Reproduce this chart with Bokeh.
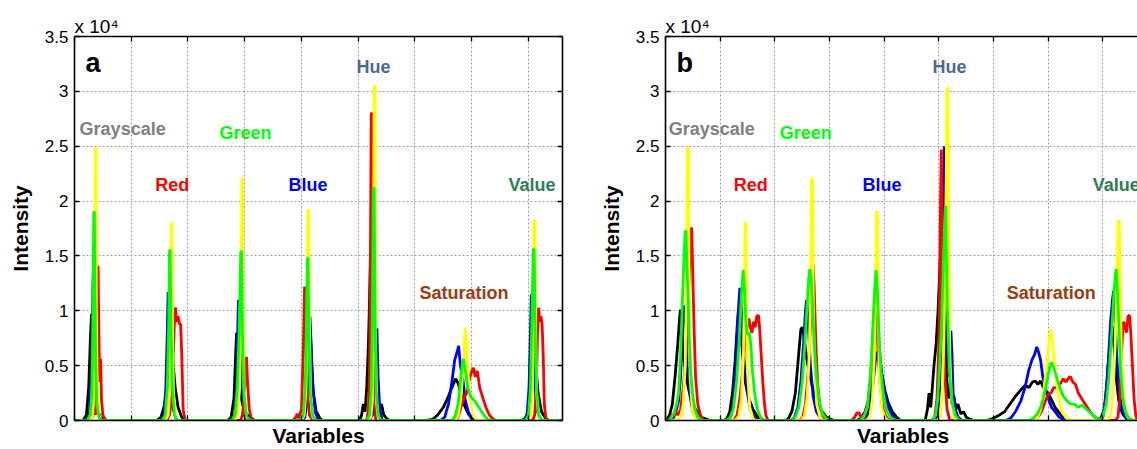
from bokeh.plotting import figure
from bokeh.layouts import row
from bokeh.models import Range1d, FixedTicker, Label, LinearAxis, ColumnDataSource
from bokeh.core.properties import value
from bokeh.embed import file_html
from bokeh.resources import INLINE

# ---------------- data (intensity in units of 1e4, x in histogram bins) ----------------
X_TICKS = [0, 200, 400, 600, 800, 1000, 1200, 1400, 1600]
Y_TICKS = [0, 0.5, 1, 1.5, 2, 2.5, 3, 3.5]
Y_TICK_LABELS = ["0", "0.5", "1", "1.5", "2", "2.5", "3", "3.5"]
VARIABLES = ["Grayscale", "Red", "Green", "Blue", "Hue", "Saturation", "Value"]
VARIABLE_COLORS = ["#808080", "#ff0000", "#00ff00", "#0000ff", "#4d6699", "#9c3b0e", "#2b7f52"]

# panel a
A_BLACK = [(0,0),(30,0),(42,0.05),(50,0.3),(56,0.75),(60,0.97),(63,0.6),(68,0.35),(74,0.2),(80,0.1),(90,0.03),(105,0.005),(120,0),
           (290,0),(305,0.03),(318,0.15),(330,0.4),(340,0.62),(344,0.68),(348,0.5),(355,0.3),(365,0.12),(378,0.03),(392,0),
           (540,0),(552,0.03),(562,0.2),(568,0.6),(571,0.8),(575,0.55),(582,0.3),(592,0.15),(606,0.06),(622,0.02),(636,0),
           (795,0),(808,0.03),(818,0.15),(826,0.45),(832,0.76),(836,0.5),(842,0.25),(852,0.08),(865,0.02),(875,0),
           (1005,0),(1012,0.05),(1018,0.15),(1024,0.08),(1030,0.3),(1036,0.7),(1040,1.1),(1043,1.5),(1046,0.9),(1050,0.4),(1056,0.25),(1062,0.12),(1068,0.2),(1074,0.1),(1082,0.15),(1090,0.05),(1100,0.02),(1110,0),
           (1240,0),(1262,0.01),(1280,0.05),(1300,0.12),(1318,0.22),(1330,0.3),(1343,0.38),(1352,0.34),(1362,0.25),(1374,0.14),(1388,0.06),(1403,0.01),(1420,0),
           (1575,0),(1590,0.02),(1602,0.12),(1612,0.4),(1618,0.62),(1621,0.68),(1626,0.5),(1634,0.25),(1646,0.08),(1660,0.02),(1672,0),(1720,0)]
A_BLUE = [(0,0),(40,0),(52,0.05),(60,0.4),(65,1.2),(68,1.6),(71,1.1),(76,0.4),(84,0.08),(95,0),
          (305,0),(315,0.05),(322,0.3),(327,0.8),(330,1.17),(334,0.9),(340,0.4),(348,0.1),(360,0),
          (555,0),(565,0.05),(572,0.4),(576,0.9),(578,1.1),(582,0.8),(588,0.3),(598,0.05),(610,0),
          (800,0),(812,0.03),(820,0.2),(826,0.6),(830,0.95),(834,0.7),(840,0.3),(848,0.08),(860,0),
          (1040,0),(1050,0.05),(1058,0.3),(1062,0.6),(1066,0.84),(1070,0.4),(1076,0.1),(1085,0),
          (1290,0),(1305,0.03),(1318,0.15),(1330,0.35),(1340,0.55),(1348,0.62),(1354,0.68),(1360,0.5),(1368,0.4),(1376,0.2),(1388,0.08),(1403,0),
          (1585,0),(1595,0.05),(1602,0.3),(1607,0.8),(1610,1.15),(1614,0.9),(1620,0.4),(1630,0.1),(1642,0),(1720,0)]
A_RED = [(0,0),(50,0),(62,0.03),(70,0.1),(74,0.05),(78,0.4),(81,1.0),(83,1.41),(86,0.8),(89,0.35),(92,0.56),(95,0.2),(100,0.05),(110,0),
         (325,0),(335,0.05),(342,0.2),(348,0.6),(353,0.95),(356,1.03),(360,0.9),(365,0.95),(370,0.88),(374,0.88),(378,0.6),(383,0.1),(390,0),
         (585,0),(592,0.05),(598,0.2),(603,0.45),(606,0.58),(610,0.35),(616,0.1),(625,0),
         (770,0),(780,0.03),(785,0.06),(790,0.02),(800,0.1),(806,0.6),(811,1.22),(815,0.8),(820,0.3),(828,0.05),(840,0),
         (1030,0),(1036,0.1),(1040,0.5),(1043,1.5),(1045,2.4),(1046,2.8),(1048,2.8),(1049,2.0),(1052,0.8),(1056,0.2),(1062,0),
         (1340,0),(1352,0.03),(1362,0.12),(1372,0.2),(1382,0.25),(1392,0.38),(1400,0.45),(1406,0.48),(1412,0.4),(1420,0.45),(1428,0.3),(1440,0.2),(1450,0.12),(1462,0.05),(1477,0.01),(1490,0),
         (1615,0),(1622,0.05),(1628,0.3),(1632,0.8),(1636,1.03),(1640,0.9),(1644,0.95),(1648,0.88),(1652,0.6),(1656,0.15),(1662,0),(1720,0)]
A_YELLOW = [(0,0),(55,0),(64,0.05),(69,0.3),(72,1.2),(73,2.48),(76,2.48),(77,1.0),(80,0.3),(86,0.05),(95,0),
            (320,0),(330,0.05),(336,0.3),(339,1.0),(341,1.8),(343,1.8),(345,0.9),(349,0.25),(356,0.03),(365,0),
            (565,0),(575,0.05),(582,0.3),(587,1.0),(590,2.2),(592,2.2),(594,1.0),(598,0.3),(606,0.03),(615,0),
            (800,0),(810,0.05),(816,0.3),(820,1.0),(823,1.92),(825,1.92),(828,0.9),(832,0.25),(840,0.03),(850,0),
            (1035,0),(1045,0.03),(1050,0.2),(1054,1.0),(1056,3.05),(1059,3.05),(1061,0.8),(1065,0.15),(1072,0),
            (1340,0),(1352,0.04),(1362,0.2),(1370,0.5),(1375,0.75),(1378,0.84),(1382,0.7),(1388,0.4),(1396,0.15),(1406,0.04),(1420,0),
            (1600,0),(1608,0.05),(1614,0.3),(1618,1.0),(1620,1.82),(1623,1.82),(1625,0.9),(1629,0.25),(1636,0.03),(1645,0),(1720,0)]
A_GREEN = [(0,0),(45,0),(55,0.05),(60,0.2),(63,0.5),(66,1.3),(68,1.9),(70,1.9),(72,1.2),(75,0.5),(79,0.15),(86,0.03),(95,0),
           (310,0),(320,0.05),(327,0.3),(332,0.9),(335,1.55),(337,1.55),(340,0.9),(345,0.3),(352,0.05),(362,0),
           (555,0),(566,0.05),(574,0.3),(580,0.8),(586,1.54),(589,1.54),(592,0.8),(597,0.25),(605,0.05),(616,0),
           (795,0),(806,0.05),(813,0.3),(818,0.9),(821,1.48),(823,1.48),(826,0.8),(831,0.25),(840,0.04),(852,0),
           (1030,0),(1040,0.05),(1046,0.3),(1050,1.0),(1053,2.12),(1056,2.12),(1059,1.0),(1063,0.3),(1070,0.05),(1080,0),
           (1330,0),(1342,0.04),(1352,0.15),(1360,0.35),(1366,0.5),(1371,0.56),(1378,0.45),(1386,0.3),(1396,0.22),(1410,0.18),(1425,0.12),(1440,0.06),(1456,0.01),(1470,0),
           (1590,0),(1600,0.05),(1607,0.3),(1612,0.9),(1617,1.56),(1620,1.56),(1623,0.9),(1628,0.3),(1636,0.05),(1648,0),(1720,0)]

# panel b
B_BLACK = [(0,0),(5,0.01),(15,0.05),(25,0.15),(35,0.4),(45,0.7),(52,0.95),(55,1.01),(59,0.85),(65,0.6),(75,0.4),(85,0.28),(100,0.15),(115,0.08),(130,0.03),(151,0.01),(165,0),
           (215,0),(225,0.02),(235,0.08),(245,0.25),(255,0.55),(262,0.85),(268,1.02),(274,0.9),(282,0.6),(292,0.35),(305,0.2),(320,0.1),(335,0.04),(350,0.01),(365,0),
           (440,0),(450,0.02),(462,0.08),(475,0.25),(487,0.6),(495,0.83),(500,0.85),(506,0.78),(514,0.6),(525,0.45),(538,0.3),(552,0.18),(568,0.1),(585,0.04),(605,0.01),(620,0),
           (700,0),(715,0.02),(730,0.08),(745,0.2),(758,0.45),(767,0.75),(773,0.87),(780,0.7),(790,0.45),(802,0.28),(815,0.16),(830,0.08),(845,0.03),(860,0),
           (950,0),(958,0.1),(964,0.25),(970,0.12),(976,0.3),(982,0.5),(990,0.7),(997,1.0),(1002,1.3),(1006,1.52),(1010,1.2),(1014,0.9),(1020,0.85),(1025,0.5),(1030,0.35),(1036,0.2),(1042,0.3),(1048,0.15),(1055,0.22),(1062,0.1),(1070,0.15),(1080,0.06),(1090,0.08),(1100,0.03),(1115,0.01),(1130,0),
           (1170,0),(1190,0.01),(1215,0.04),(1240,0.08),(1260,0.15),(1280,0.22),(1300,0.28),(1315,0.32),(1330,0.3),(1342,0.35),(1353,0.36),(1362,0.33),(1372,0.36),(1382,0.3),(1395,0.26),(1410,0.2),(1425,0.12),(1440,0.07),(1455,0.03),(1467,0.01),(1485,0),
           (1580,0),(1592,0.02),(1605,0.1),(1615,0.35),(1624,0.65),(1630,0.82),(1634,0.86),(1640,0.7),(1648,0.4),(1658,0.18),(1670,0.07),(1685,0.02),(1700,0),(1740,0)]
B_BLUE = [(0,0),(20,0),(30,0.03),(40,0.1),(48,0.18),(55,0.4),(62,0.8),(68,1.05),(74,0.9),(80,0.5),(88,0.25),(100,0.08),(115,0.02),(130,0),
          (225,0),(238,0.03),(248,0.15),(258,0.5),(265,0.95),(272,1.21),(278,1.0),(286,0.6),(296,0.3),(310,0.1),(325,0.03),(340,0),
          (460,0),(472,0.03),(484,0.12),(495,0.35),(505,0.7),(512,1.0),(516,1.1),(522,0.9),(530,0.5),(540,0.22),(552,0.08),(568,0.02),(585,0),
          (720,0),(735,0.03),(748,0.12),(760,0.35),(770,0.6),(778,0.63),(784,0.55),(792,0.4),(802,0.25),(815,0.12),(830,0.04),(848,0),
          (985,0),(995,0.05),(1003,0.3),(1010,0.9),(1015,1.6),(1018,2.1),(1020,2.5),(1022,1.7),(1026,1.0),(1032,0.6),(1038,0.4),(1044,0.82),(1048,0.6),(1052,0.25),(1060,0.1),(1070,0.03),(1085,0),
          (1245,0),(1262,0.02),(1280,0.08),(1300,0.18),(1315,0.3),(1328,0.45),(1340,0.55),(1350,0.6),(1358,0.67),(1365,0.62),(1372,0.55),(1380,0.4),(1390,0.28),(1400,0.2),(1412,0.12),(1425,0.08),(1440,0.03),(1457,0.01),(1470,0),
          (1590,0),(1600,0.03),(1610,0.2),(1620,0.55),(1628,0.9),(1635,1.1),(1639,1.18),(1644,1.0),(1650,0.6),(1658,0.3),(1668,0.12),(1680,0.04),(1695,0),(1740,0)]
B_RED = [(0,0),(15,0),(22,0.05),(30,0.05),(38,0.08),(45,0.05),(55,0.1),(65,0.3),(75,0.6),(82,1.0),(88,1.4),(93,1.75),(96,1.75),(100,1.3),(105,0.8),(110,0.4),(118,0.15),(128,0.05),(140,0),
         (250,0),(262,0.05),(272,0.2),(282,0.45),(290,0.7),(298,0.85),(305,0.93),(310,0.85),(316,0.8),(322,0.9),(328,0.85),(334,0.95),(340,0.96),(344,0.85),(350,0.6),(356,0.35),(362,0.15),(367,0.05),(375,0),
         (490,0),(502,0.03),(512,0.15),(522,0.45),(530,0.85),(536,1.2),(540,1.42),(544,1.2),(550,0.7),(556,0.35),(565,0.12),(578,0.03),(590,0),
         (680,0),(692,0.03),(700,0.07),(708,0.07),(716,0.03),(728,0.05),(740,0.15),(752,0.45),(760,0.85),(767,1.19),(772,1.0),(778,0.6),(786,0.3),(796,0.1),(810,0.02),(825,0),
         (975,0),(985,0.03),(993,0.2),(999,0.6),(1003,1.2),(1006,2.0),(1009,2.47),(1012,1.8),(1016,0.9),(1022,0.4),(1030,0.1),(1040,0),
         (1345,0),(1360,0.02),(1375,0.08),(1390,0.18),(1400,0.24),(1410,0.25),(1420,0.3),(1432,0.3),(1445,0.34),(1455,0.38),(1465,0.35),(1475,0.39),(1481,0.4),(1490,0.35),(1500,0.33),(1510,0.25),(1522,0.2),(1535,0.15),(1548,0.1),(1562,0.05),(1577,0.02),(1591,0.01),(1605,0),
         (1645,0),(1655,0.03),(1662,0.2),(1668,0.6),(1674,0.9),(1680,0.88),(1686,0.8),(1692,0.95),(1697,0.96),(1702,0.8),(1708,0.5),(1714,0.2),(1720,0.05),(1726,0),(1740,0)]
B_YELLOW = [(0,0),(40,0),(55,0.03),(65,0.15),(72,0.5),(77,1.2),(80,2.48),(84,2.48),(86,1.1),(90,0.4),(98,0.1),(110,0.02),(120,0),
            (255,0),(268,0.04),(278,0.2),(285,0.6),(289,1.2),(291,1.8),(294,1.8),(296,1.1),(300,0.45),(308,0.12),(320,0.02),(330,0),
            (495,0),(508,0.04),(518,0.2),(526,0.6),(531,1.2),(534,2.2),(538,2.2),(540,1.2),(545,0.5),(553,0.15),(565,0.03),(578,0),
            (735,0),(748,0.04),(757,0.2),(764,0.6),(769,1.2),(772,1.9),(776,1.9),(778,1.0),(783,0.4),(792,0.1),(805,0.02),(815,0),
            (995,0),(1005,0.03),(1012,0.2),(1018,0.7),(1023,1.4),(1027,2.2),(1029,3.03),(1032,3.03),(1034,2.56),(1036,1.5),(1040,0.6),(1046,0.2),(1055,0.03),(1065,0),
            (1350,0),(1362,0.03),(1372,0.1),(1382,0.25),(1392,0.45),(1400,0.65),(1406,0.78),(1410,0.83),(1415,0.72),(1422,0.55),(1430,0.35),(1440,0.18),(1452,0.07),(1467,0.02),(1480,0),
            (1615,0),(1628,0.04),(1637,0.25),(1645,0.7),(1651,1.3),(1656,1.82),(1660,1.82),(1663,1.2),(1668,0.55),(1676,0.2),(1688,0.04),(1700,0),(1740,0)]
B_GREEN = [(0,0),(10,0),(20,0.02),(30,0.06),(40,0.14),(48,0.25),(55,0.6),(62,1.1),(68,1.5),(72,1.73),(75,1.72),(78,1.45),(82,1.2),(86,0.8),(92,0.45),(100,0.22),(110,0.08),(122,0.02),(135,0),
           (220,0),(235,0.02),(248,0.1),(260,0.35),(270,0.75),(278,1.15),(284,1.37),(289,1.2),(294,0.9),(300,0.78),(306,0.8),(312,0.7),(318,0.45),(326,0.25),(336,0.1),(348,0.03),(360,0),
           (460,0),(475,0.03),(488,0.12),(500,0.35),(510,0.7),(518,1.05),(524,1.3),(528,1.38),(533,1.3),(538,1.05),(544,0.7),(552,0.4),(562,0.18),(575,0.06),(590,0.01),(605,0),
           (710,0),(725,0.03),(738,0.12),(748,0.35),(757,0.75),(764,1.15),(770,1.37),(775,1.2),(780,0.85),(787,0.5),(796,0.25),(808,0.1),(822,0.03),(840,0),
           (975,0),(988,0.05),(996,0.2),(1003,0.5),(1010,0.9),(1016,1.4),(1021,1.8),(1024,1.96),(1027,1.6),(1030,1.1),(1034,0.8),(1038,0.5),(1043,0.3),(1050,0.15),(1060,0.05),(1075,0),
           (1330,0),(1345,0.02),(1360,0.06),(1372,0.12),(1382,0.2),(1392,0.32),(1400,0.42),(1407,0.5),(1413,0.53),(1420,0.48),(1428,0.42),(1436,0.35),(1445,0.28),(1455,0.22),(1468,0.18),(1482,0.15),(1495,0.15),(1510,0.12),(1525,0.14),(1540,0.1),(1555,0.07),(1568,0.04),(1577,0.02),(1592,0),
           (1600,0.03),(1612,0.15),(1622,0.4),(1632,0.8),(1640,1.15),(1646,1.35),(1649,1.38),(1653,1.2),(1658,0.9),(1664,0.5),(1672,0.22),(1682,0.08),(1695,0.02),(1710,0),(1740,0)]

# label placement (data coordinates)
A_LABEL_X = [18, 285, 511, 754, 994, 1216, 1530]
B_LABEL_X = [12, 250, 418, 721, 977, 1248, 1563]
LABEL_Y = [2.66, 2.15, 2.62, 2.15, 3.22, 1.16, 2.15]

LINE_COLORS = {"black": "#000000", "blue": "#0000ff", "red": "#ff0000", "yellow": "#ffff00", "green": "#00ff00"}
FONT = "Liberation Sans"


def style_axis(ax):
    ax.axis_line_color = "black"
    ax.axis_line_width = 1.6
    ax.major_tick_in = 5
    ax.major_tick_out = 0
    ax.major_tick_line_color = "black"
    ax.major_tick_line_width = 1.3
    ax.minor_tick_line_color = None


def blank_labels(ax, ticks):
    ax.major_label_overrides = {t: "" for t in ticks}
    ax.major_label_text_font_size = "1px"
    ax.major_label_standoff = 0


def make_panel(series, xmax, frame_w, left_border, right_border, with_right, letter, label_x):
    p = figure(frame_width=frame_w, frame_height=384,
               x_range=Range1d(0, xmax), y_range=Range1d(0, 3.5),
               output_backend="svg", toolbar_location=None,
               min_border_left=left_border, min_border_right=right_border,
               min_border_top=36, min_border_bottom=29,
               outline_line_color=None, background_fill_color="white",
               border_fill_color="white")

    # "x 10^4" multiplier as a left-aligned title above the frame
    p.title.text = "x 10\u2074"
    p.title.align = "left"
    p.title.text_font = FONT
    p.title.text_font_style = "normal"
    p.title.text_font_size = "19px"
    p.title.text_color = "black"
    p.title.offset = 0
    p.title.standoff = 0

    # bottom axis
    xa = p.xaxis[0]
    xa.ticker = FixedTicker(ticks=X_TICKS)
    style_axis(xa)
    blank_labels(xa, X_TICKS)
    xa.axis_label = "Variables"
    xa.axis_label_text_font = FONT
    xa.axis_label_text_font_style = "bold"
    xa.axis_label_text_font_size = "21px"
    xa.axis_label_text_color = "black"
    xa.axis_label_standoff = 3

    # top axis
    top = LinearAxis(ticker=FixedTicker(ticks=X_TICKS))
    style_axis(top)
    blank_labels(top, X_TICKS)
    p.add_layout(top, "above")

    # left axis
    ya = p.yaxis[0]
    ya.ticker = FixedTicker(ticks=Y_TICKS)
    style_axis(ya)
    ya.major_label_overrides = dict(zip(Y_TICKS, Y_TICK_LABELS))
    ya.major_label_text_font = FONT
    ya.major_label_text_font_size = "17px"
    ya.major_label_text_color = "black"
    ya.major_label_standoff = 6
    ya.axis_label = "Intensity"
    ya.axis_label_text_font = FONT
    ya.axis_label_text_font_style = "bold"
    ya.axis_label_text_font_size = "21px"
    ya.axis_label_text_color = "black"
    ya.axis_label_standoff = 10

    if with_right:
        ra = LinearAxis(ticker=FixedTicker(ticks=Y_TICKS))
        style_axis(ra)
        blank_labels(ra, Y_TICKS)
        p.add_layout(ra, "right")

    p.xgrid.ticker = FixedTicker(ticks=X_TICKS)
    p.ygrid.ticker = FixedTicker(ticks=Y_TICKS)
    for g in (p.xgrid, p.ygrid):
        g.grid_line_color = "#a0a0a0"
        g.grid_line_dash = "2 2"
        g.grid_line_width = 1

    for name in ["black", "blue", "red", "yellow", "green"]:
        pts = series[name]
        xs = [pt[0] for pt in pts]
        ys = [pt[1] for pt in pts]
        p.line(xs, ys, line_color=LINE_COLORS[name], line_width=2.8)

    src = ColumnDataSource(dict(x=label_x, y=LABEL_Y, text=VARIABLES, color=VARIABLE_COLORS))
    p.text(x="x", y="y", text="text", text_color="color", source=src,
           text_font=value(FONT), text_font_style="bold", text_font_size="18px",
           text_baseline="middle", text_align="left")

    p.add_layout(Label(x=0, y=3.26, x_offset=11, text=letter, text_font=FONT,
                       text_font_style="bold", text_font_size="27px",
                       text_baseline="middle", text_align="left", text_color="black"))
    return p


pa = make_panel({"black": A_BLACK, "blue": A_BLUE, "red": A_RED, "yellow": A_YELLOW, "green": A_GREEN},
                1720, 488, 74, 34, True, "a", A_LABEL_X)
pb = make_panel({"black": B_BLACK, "blue": B_BLUE, "red": B_RED, "yellow": B_YELLOW, "green": B_GREEN},
                1737.5, 475, 66, 0, False, "b", B_LABEL_X)

layout = row(pa, pb)
open("out.html", "w").write(file_html(layout, INLINE))
